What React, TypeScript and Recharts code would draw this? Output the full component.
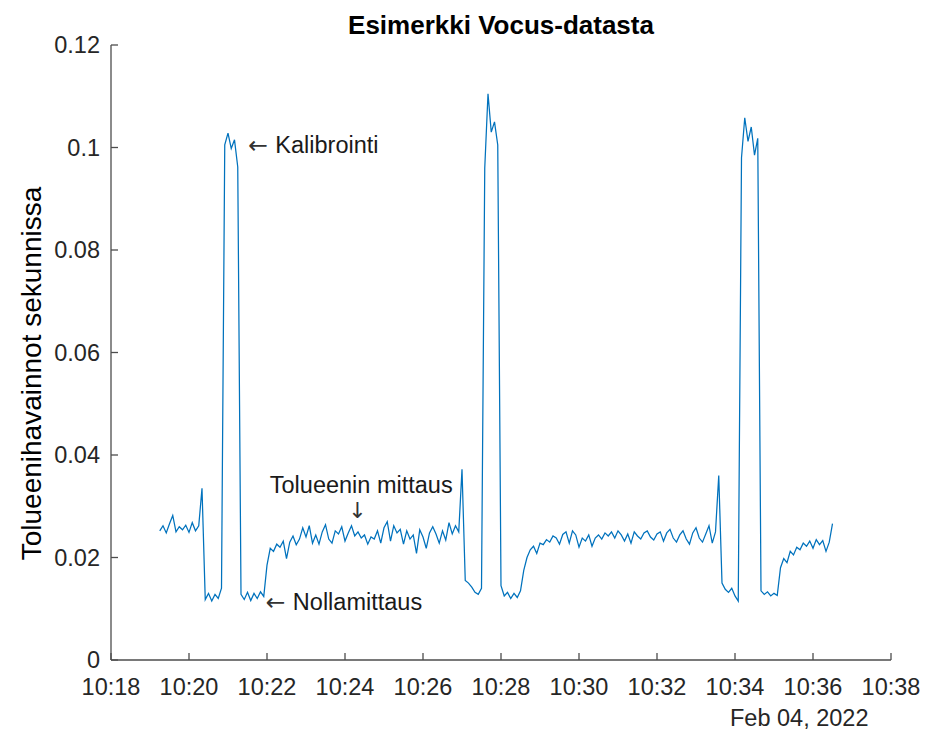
import { LineChart, Line, XAxis, YAxis, ReferenceDot } from 'recharts';

// toluene signal, one sample every 5 s, first sample 75 s after 10:18:00
const START_S = 75;
const STEP_S = 5;
const TOLUENE = [
  0.0252, 0.0262, 0.0248, 0.0266, 0.0282, 0.0250, 0.0260, 0.0254, 0.0263, 0.0249,
  0.0268, 0.0252, 0.0262, 0.0335, 0.0118, 0.0130, 0.0115, 0.0128, 0.0120, 0.0140,
  0.1005, 0.1028, 0.0998, 0.1015, 0.0962, 0.0128, 0.0118, 0.0132, 0.0116, 0.0130,
  0.0120, 0.0133, 0.0124, 0.0185, 0.0218, 0.0212, 0.0226, 0.0220, 0.0232, 0.0198,
  0.0230, 0.0242, 0.0225, 0.0236, 0.0258, 0.0240, 0.0262, 0.0228, 0.0244, 0.0226,
  0.0250, 0.0264, 0.0236, 0.0228, 0.0252, 0.0246, 0.0260, 0.0232, 0.0248, 0.0262,
  0.0242, 0.0250, 0.0238, 0.0244, 0.0226, 0.0240, 0.0236, 0.0252, 0.0228, 0.0258,
  0.0270, 0.0232, 0.0262, 0.0248, 0.0255, 0.0226, 0.0252, 0.0236, 0.0244, 0.0208,
  0.0254, 0.0240, 0.0218, 0.0248, 0.0260, 0.0246, 0.0228, 0.0252, 0.0234, 0.0268,
  0.0246, 0.0262, 0.0250, 0.0372, 0.0155, 0.0150, 0.0142, 0.0132, 0.0128, 0.0140,
  0.0960, 0.1105, 0.1030, 0.1050, 0.1005, 0.0145, 0.0125, 0.0132, 0.0120, 0.0130,
  0.0122, 0.0135, 0.0175, 0.0200, 0.0215, 0.0222, 0.0208, 0.0228, 0.0225, 0.0235,
  0.0230, 0.0242, 0.0238, 0.0226, 0.0245, 0.0250, 0.0228, 0.0252, 0.0244, 0.0220,
  0.0238, 0.0232, 0.0244, 0.0222, 0.0238, 0.0244, 0.0236, 0.0248, 0.0242, 0.0250,
  0.0238, 0.0252, 0.0244, 0.0232, 0.0246, 0.0228, 0.0250, 0.0242, 0.0236, 0.0248,
  0.0252, 0.0240, 0.0234, 0.0246, 0.0250, 0.0232, 0.0248, 0.0255, 0.0238, 0.0230,
  0.0244, 0.0252, 0.0236, 0.0226, 0.0248, 0.0258, 0.0238, 0.0230, 0.0246, 0.0262,
  0.0228, 0.0250, 0.0360, 0.0150, 0.0138, 0.0132, 0.0140, 0.0125, 0.0115, 0.0980,
  0.1058, 0.1012, 0.1040, 0.0985, 0.1018, 0.0135, 0.0128, 0.0133, 0.0125, 0.0130,
  0.0126, 0.0180, 0.0198, 0.0190, 0.0212, 0.0205, 0.0220, 0.0215, 0.0228, 0.0222,
  0.0232, 0.0218, 0.0235, 0.0225, 0.0233, 0.0212, 0.0230, 0.0266,
];

const X_TICKS = [0, 120, 240, 360, 480, 600, 720, 840, 960, 1080, 1200];
const X_TICK_LABELS = ['10:18', '10:20', '10:22', '10:24', '10:26', '10:28', '10:30', '10:32', '10:34', '10:36', '10:38'];
const Y_TICKS = [0, 0.02, 0.04, 0.06, 0.08, 0.1, 0.12];
const Y_TICK_LABELS = ['0', '0.02', '0.04', '0.06', '0.08', '0.1', '0.12'];

const data = TOLUENE.map((v, i) => ({ t: START_S + i * STEP_S, v }));

const FONT = '"Liberation Sans", Arial, Helvetica, sans-serif';
const ARROW_FONT = '"DejaVu Sans", sans-serif';
const AXIS = '#4d4d4d';
const TEXT = '#262626';
const TICK_LEN = 7;
const GAP = 8;

function BottomTick(props: any) {
  const { x, y, payload, index } = props;
  const axisY = y - GAP;
  return (
    <g>
      <line x1={x} y1={axisY} x2={x} y2={axisY - TICK_LEN} stroke={AXIS} strokeWidth={1.3} />
      <text x={x} y={axisY + 35} textAnchor="middle" fontSize={23.5} fontFamily={FONT} fill={TEXT}>
        {X_TICK_LABELS[index] ?? payload.value}
      </text>
    </g>
  );
}

function TopTick(props: any) {
  const { x, y } = props;
  const axisY = y + GAP;
  return <line x1={x} y1={axisY} x2={x} y2={axisY + TICK_LEN} stroke={AXIS} strokeWidth={1.3} />;
}

function LeftTick(props: any) {
  const { x, y, index, payload } = props;
  const axisX = x + GAP;
  return (
    <g>
      <line x1={axisX} y1={y} x2={axisX + TICK_LEN} y2={y} stroke={AXIS} strokeWidth={1.3} />
      <text x={axisX - 11} y={y} textAnchor="end" dominantBaseline="central" fontSize={23.5} fontFamily={FONT} fill={TEXT}>
        {Y_TICK_LABELS[index] ?? payload.value}
      </text>
    </g>
  );
}

function RightTick(props: any) {
  const { x, y } = props;
  const axisX = x - GAP;
  return <line x1={axisX} y1={y} x2={axisX - TICK_LEN} y2={y} stroke={AXIS} strokeWidth={1.3} />;
}

// annotation text anchored at a data point; arrow drawn in DejaVu (Liberation's arrows are tiny)
const note = (arrow: string, text: string, anchor: 'start' | 'middle', arrowSize = 23.5) => (props: any) => {
  const vb = props.viewBox || {};
  const cx = (vb.x ?? 0) + (vb.width ?? 0) / 2;
  const cy = (vb.y ?? 0) + (vb.height ?? 0) / 2;
  return (
    <text x={cx} y={cy} textAnchor={anchor} dominantBaseline="central" fontSize={23.5} fontFamily={FONT} fill="#1a1a1a">
      {arrow && (
        <tspan fontFamily={ARROW_FONT} fontSize={arrowSize} fill="#333">
          {arrow}
        </tspan>
      )}
      {text}
    </text>
  );
};

export default function App() {
  return (
    <div style={{ position: 'absolute', left: 0, top: 0, width: 926, height: 731, background: '#fff', fontFamily: FONT }}>
      <div
        style={{
          position: 'absolute', left: 111, width: 780, top: 12, textAlign: 'center',
          fontSize: 26, lineHeight: '26px', fontWeight: 'bold', color: '#000',
        }}
      >
        Esimerkki Vocus-datasta
      </div>
      <LineChart width={926} height={731} data={data} margin={{ top: 45, right: 35, bottom: 0, left: 0 }}>
        <XAxis
          dataKey="t"
          type="number"
          domain={[0, 1200]}
          ticks={X_TICKS}
          interval={0}
          height={71}
          tickSize={0}
          tickMargin={GAP}
          tick={<BottomTick />}
          axisLine={{ stroke: AXIS, strokeWidth: 1.3 }}
          allowDataOverflow
        />
        <XAxis
          xAxisId="top"
          orientation="top"
          type="number"
          domain={[0, 1200]}
          ticks={X_TICKS}
          interval={0}
          height={0}
          tickSize={0}
          tickMargin={GAP}
          tick={<TopTick />}
          axisLine={{ stroke: AXIS, strokeWidth: 1.3 }}
        />
        <YAxis
          type="number"
          domain={[0, 0.12]}
          ticks={Y_TICKS}
          interval={0}
          width={111}
          tickSize={0}
          tickMargin={GAP}
          tick={<LeftTick />}
          axisLine={{ stroke: AXIS, strokeWidth: 1.3 }}
          label={{
            content: (p: any) => {
              const vb = p.viewBox || { x: 0, y: 45, width: 111, height: 615 };
              const cx = vb.x + 31;
              const cy = vb.y + vb.height / 2 + 21;
              return (
                <text
                  x={cx}
                  y={cy}
                  transform={`rotate(-90, ${cx}, ${cy})`}
                  textAnchor="middle"
                  dominantBaseline="central"
                  fontSize={28}
                  fontFamily={FONT}
                  fill="#000"
                >
                  Tolueenihavainnot sekunnissa
                </text>
              );
            },
          }}
        />
        <YAxis
          yAxisId="right"
          orientation="right"
          type="number"
          domain={[0, 0.12]}
          ticks={Y_TICKS}
          interval={0}
          width={0}
          tickSize={0}
          tickMargin={GAP}
          tick={<RightTick />}
          axisLine={{ stroke: AXIS, strokeWidth: 1.3 }}
        />
        <Line
          type="linear"
          dataKey="v"
          stroke="#0072BD"
          strokeWidth={1.25}
          dot={false}
          isAnimationActive={false}
        />
        <ReferenceDot x={211} y={0.1005} r={0} fill="none" stroke="none" label={note('\u2190 ', 'Kalibrointi', 'start')} />
        <ReferenceDot x={385} y={0.0341} r={0} fill="none" stroke="none" label={note('', 'Tolueenin mittaus', 'middle')} />
        <ReferenceDot x={379} y={0.0292} r={0} fill="none" stroke="none" label={note('\u2193', '', 'middle', 22)} />
        <ReferenceDot x={238} y={0.0113} r={0} fill="none" stroke="none" label={note('\u2190 ', 'Nollamittaus', 'start')} />
      </LineChart>
      <div
        style={{
          position: 'absolute', left: 730, top: 706, fontSize: 23.5, lineHeight: '24px', color: TEXT,
        }}
      >
        Feb 04, 2022
      </div>
    </div>
  );
}
